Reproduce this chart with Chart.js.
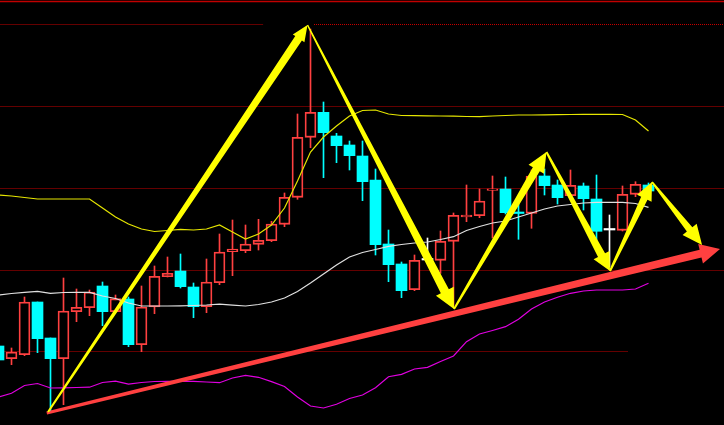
<!DOCTYPE html>
<html>
<head>
<meta charset="utf-8">
<script src="https://cdn.jsdelivr.net/npm/chart.js@4"></script>
<style>
html, body { margin: 0; padding: 0; background: #000; }
canvas { display: block; }
</style>
</head>
<body>
<canvas id="myChart" width="724" height="425"></canvas>
<script>
// K-line data (candle index 0..50)
const opens = [1927.8, 1926.53, 1926.93, 1932.2, 1928.6, 1926.53, 1931.23, 1931.63, 1933.8, 1931.23,
  1932.5, 1927.93, 1931.7, 1934.73, 1935.3, 1933.7, 1931.73, 1934.13, 1937.23, 1937.33,
  1937.97, 1938.33, 1939.97, 1942.67, 1948.67, 1951.17, 1948.8, 1947.9, 1946.8, 1944.4,
  1938.0, 1936.0, 1933.43, 1936.4, 1936.37, 1938.27, 1940.7, 1940.83, 1943.37, 1943.5,
  1941.2, 1941.07, 1944.8, 1943.9, 1942.83, 1943.8, 1942.5, 1939.4, 1939.37, 1942.97, 1943.9];
const closes = [1926.4, 1927.2, 1932.2, 1928.53, 1926.53, 1931.3, 1931.67, 1933.2, 1931.23, 1932.53,
  1927.93, 1931.7, 1934.77, 1935.07, 1933.73, 1931.73, 1934.2, 1937.2, 1937.5, 1938.0,
  1938.37, 1940.0, 1942.67, 1948.67, 1951.17, 1949.13, 1947.83, 1946.83, 1944.23, 1937.93,
  1935.93, 1933.33, 1936.37, 1936.4, 1938.27, 1940.87, 1940.9, 1942.3, 1943.5, 1941.13,
  1941.05, 1944.8, 1943.83, 1942.63, 1943.87, 1942.53, 1939.27, 1939.4, 1942.97, 1943.97, 1943.3];
const highs = [1928.0, 1927.6, 1932.7, 1932.2, 1928.6, 1934.6, 1933.5, 1933.4, 1934.2, 1932.9,
  1932.7, 1933.8, 1935.8, 1936.7, 1937.0, 1934.1, 1936.5, 1939.0, 1940.4, 1939.9,
  1940.47, 1940.27, 1943.1, 1951.0, 1959.5, 1952.2, 1949.07, 1948.3, 1948.3, 1945.5,
  1939.4, 1936.2, 1936.9, 1938.6, 1939.3, 1941.1, 1943.9, 1943.5, 1944.8, 1944.7,
  1942.0, 1945.4, 1945.5, 1944.4, 1945.4, 1944.1, 1944.9, 1940.9, 1943.8, 1944.23, 1944.1];
const lows = [1926.2, 1925.93, 1926.83, 1927.13, 1921.33, 1921.93, 1930.23, 1930.83, 1929.83, 1931.2,
  1927.73, 1927.23, 1931.03, 1934.7, 1933.6, 1930.63, 1931.13, 1933.93, 1934.83, 1937.13,
  1937.4, 1938.23, 1939.73, 1942.47, 1947.63, 1944.63, 1946.13, 1945.4, 1942.33, 1936.9,
  1934.23, 1932.63, 1933.33, 1936.4, 1935.07, 1931.8, 1940.23, 1940.63, 1938.6, 1941.0,
  1938.47, 1939.57, 1942.9, 1942.0, 1942.7, 1941.4, 1938.4, 1935.7, 1939.3, 1942.73, 1943.2];

// Bollinger bands
const bollUpper = [1942.9, 1942.8, 1942.65, 1942.5, 1942.5, 1942.5, 1942.5, 1942.5, 1941.6, 1940.7,
  1940.0, 1939.5, 1939.25, 1939.35, 1939.47, 1939.4, 1939.5, 1939.9, 1939.2, 1938.5,
  1939.0, 1939.9, 1941.6, 1944.3, 1947.2, 1948.7, 1949.8, 1950.8, 1951.35, 1951.4,
  1951.0, 1950.85, 1950.83, 1950.82, 1950.8, 1950.78, 1950.75, 1950.73, 1950.8, 1950.85,
  1950.9, 1950.9, 1950.92, 1950.94, 1950.95, 1950.97, 1950.97, 1950.97, 1950.95, 1950.4, 1949.3];
const bollMid = [1932.9, 1933.05, 1933.17, 1933.27, 1933.07, 1933.15, 1933.17, 1933.17, 1932.8, 1932.55,
  1932.1, 1931.8, 1931.8, 1931.8, 1931.82, 1931.85, 1931.9, 1931.98, 1931.88, 1931.8,
  1931.95, 1932.2, 1932.6, 1933.25, 1934.1, 1935.0, 1935.9, 1936.7, 1937.15, 1937.45,
  1937.77, 1937.95, 1938.1, 1938.2, 1938.45, 1938.73, 1939.35, 1939.75, 1940.1, 1940.3,
  1940.7, 1941.1, 1941.5, 1941.8, 1941.95, 1942.1, 1942.17, 1942.17, 1942.17, 1942.05, 1941.67];
const bollLower = [1922.7, 1923.07, 1923.85, 1924.05, 1923.6, 1923.62, 1923.65, 1923.68, 1924.15, 1924.28,
  1923.98, 1924.15, 1924.25, 1924.27, 1924.27, 1924.27, 1924.2, 1924.13, 1924.6, 1924.87,
  1924.67, 1924.24, 1923.75, 1922.7, 1921.8, 1921.6, 1921.97, 1922.55, 1922.9, 1923.63,
  1924.73, 1924.97, 1925.5, 1925.66, 1926.25, 1926.8, 1928.23, 1929.0, 1929.35, 1929.73,
  1930.47, 1931.5, 1932.2, 1932.67, 1933.07, 1933.3, 1933.4, 1933.4, 1933.4, 1933.5, 1934.07];

// price grid lines: [level, from index, to index]
const gridLines = [
  [1959.95, 0, 20.35], [1959.95, 24.27, 56],
  [1951.75, 0, 56], [1943.55, 0, 56], [1935.35, 0, 56], [1927.25, 0, 48.42]
];
const topLine = 1962.25;

// hand drawn arrows, points as [candle index, price]
const zigzag = [[3.81, 1921.2], [23.77, 1959.9], [35.04, 1931.5], [42.15, 1947.2],
  [47.04, 1935.3], [50.27, 1944.2], [54.12, 1937.9]];
const trend = [[3.71, 1921.1], [55.5, 1937.5]];

const UP = '#ff4040', DOWN = '#00ffff', FLAT = '#ffffff';
const idx = opens.map((_, i) => i);
const colorOf = i => closes[i] > opens[i] ? UP : (closes[i] < opens[i] ? DOWN : FLAT);

// [start width, end width, head width, head length]
const zigStyle = [[2, 8, 14, 16], [1.5, 9, 20, 20], [2, 8, 18, 20], [2, 8, 18, 18], [2, 7, 16, 18], [2, 7, 18, 20]];
const trendStyle = [3, 8, 20, 20];

function drawArrow(ctx, x0, y0, x1, y1, st, color) {
  const [w0, w1, hw, hl] = st;
  const dx = x1 - x0, dy = y1 - y0, len = Math.hypot(dx, dy);
  const ux = dx / len, uy = dy / len, nx = -uy, ny = ux;
  const bx = x1 - ux * hl, by = y1 - uy * hl;
  ctx.beginPath();
  ctx.moveTo(x0 + nx * w0 / 2, y0 + ny * w0 / 2);
  ctx.lineTo(bx + nx * w1 / 2, by + ny * w1 / 2);
  ctx.lineTo(bx + nx * hw / 2, by + ny * hw / 2);
  ctx.lineTo(x1, y1);
  ctx.lineTo(bx - nx * hw / 2, by - ny * hw / 2);
  ctx.lineTo(bx - nx * w1 / 2, by - ny * w1 / 2);
  ctx.lineTo(x0 - nx * w0 / 2, y0 - ny * w0 / 2);
  ctx.closePath();
  ctx.fillStyle = color;
  ctx.fill();
}

const arrowPlugin = {
  id: 'arrows',
  afterDatasetsDraw(chart) {
    const { ctx, scales: { x, y } } = chart;
    const px = p => [x.getPixelForValue(p[0]), y.getPixelForValue(p[1])];
    ctx.save();
    const [a, b] = [px(trend[0]), px(trend[1])];
    drawArrow(ctx, a[0], a[1], b[0], b[1], trendStyle, '#ff4040');
    for (let k = 0; k < zigzag.length - 1; k++) {
      const p0 = px(zigzag[k]), p1 = px(zigzag[k + 1]);
      drawArrow(ctx, p0[0], p0[1], p1[0], p1[1], zigStyle[k], '#ffff00');
    }
    ctx.restore();
  }
};

const lineSet = (data, color) => ({
  type: 'line',
  data: idx.map(i => ({ x: i, y: data[i] })),
  borderColor: color,
  borderWidth: 1.2,
  pointRadius: 0,
  tension: 0,
  order: 1
});

const datasets = [
  // wicks
  {
    type: 'bar',
    data: idx.map(i => ({ x: i, y: [lows[i], highs[i]] })),
    backgroundColor: idx.map(colorOf),
    barThickness: 1,
    grouped: false,
    minBarLength: 1,
    order: 3
  },
  // bodies
  {
    type: 'bar',
    data: idx.map(i => ({ x: i, y: [opens[i], closes[i]] })),
    backgroundColor: idx.map(i => colorOf(i) === UP ? '#000000' : colorOf(i)),
    borderColor: idx.map(colorOf),
    borderWidth: idx.map(i => colorOf(i) === UP ? 1.8 : 0),
    borderSkipped: false,
    barThickness: 11,
    grouped: false,
    minBarLength: 1.5,
    order: 2
  },
  lineSet(bollUpper, '#e6e600'),
  lineSet(bollMid, '#e0e0e0'),
  lineSet(bollLower, '#e000e0'),
  {
    type: 'line',
    data: [{ x: 0, y: topLine }, { x: 56, y: topLine }],
    borderColor: '#c00000',
    borderWidth: 1.5,
    pointRadius: 0,
    order: 5
  },
  ...gridLines.map(g => ({
    type: 'line',
    data: [{ x: g[1], y: g[0] }, { x: g[2], y: g[0] }],
    borderColor: '#c80000',
    borderWidth: 1,
    borderDash: [1, 1],
    pointRadius: 0,
    order: 6
  }))
];

const ctx = document.getElementById('myChart').getContext('2d');
const myChart = new Chart(ctx, {
  type: 'bar',
  data: { datasets },
  options: {
    responsive: false,
    animation: false,
    devicePixelRatio: 1,
    layout: { padding: 0 },
    plugins: { legend: { display: false }, tooltip: { enabled: false } },
    scales: {
      x: { type: 'linear', display: false, offset: false, min: 0.1154, max: 55.8077 },
      y: { display: false, min: 1919.9, max: 1962.4 }
    }
  },
  plugins: [arrowPlugin]
});
</script>
</body>
</html>
